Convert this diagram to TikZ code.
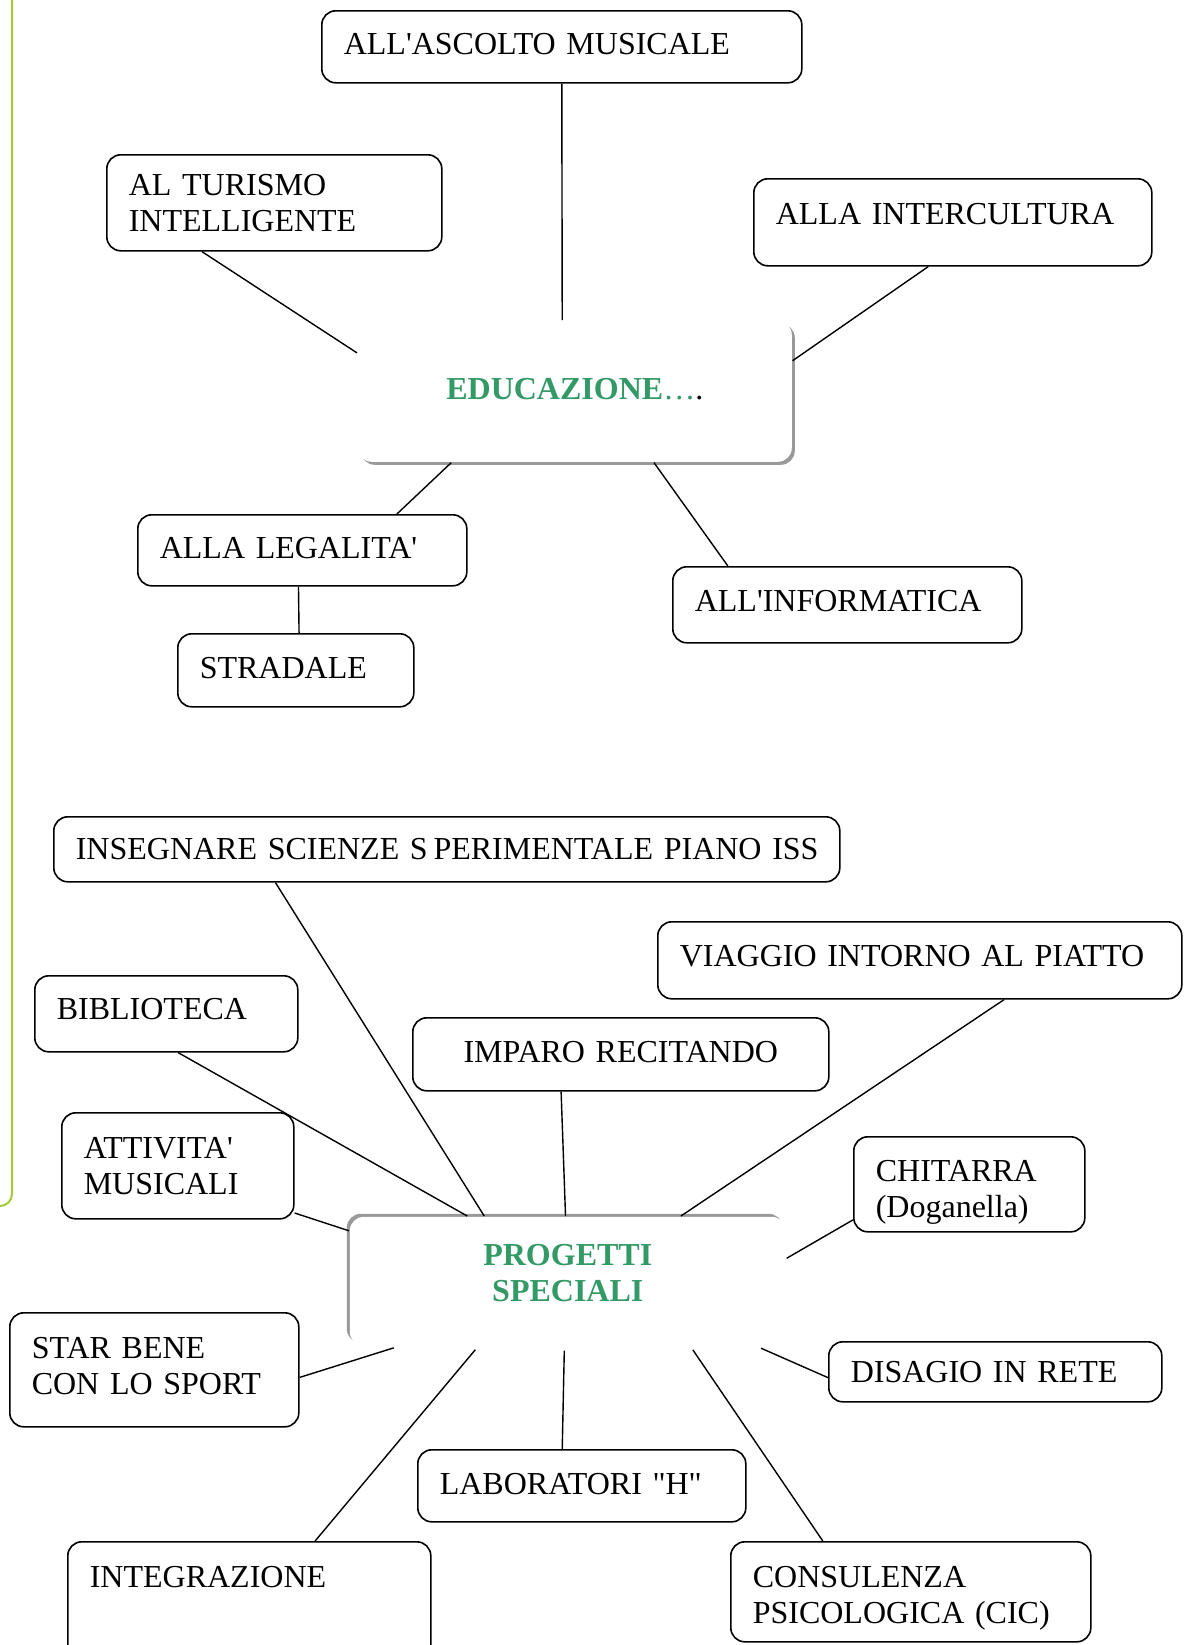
\documentclass[tikz,border=0pt]{standalone}
\usepackage{fontspec}
\setmainfont{Liberation Serif}[Ligatures=TeXOff]
\usetikzlibrary{shadows}
\definecolor{titlegreen}{RGB}{51,153,102}
\definecolor{sidegreen}{RGB}{160,205,50}

\begin{document}
\begin{tikzpicture}[x=0.5pt,y=-0.5pt,
    box/.style={draw,line width=0.8pt,rounded corners=7pt,anchor=north west,
      inner xsep=11pt,inner ysep=0pt,align=left,font=\fontsize{16}{18}\selectfont},
    boxsize/.code 2 args={\pgfmathsetmacro\tw{#1-22}%
      \edef\tmp{\noexpand\pgfkeysalso{minimum width=#1pt,minimum height=#2pt,text width=\tw pt}}\tmp},
    hub/.style={box,draw=none,fill=white,align=center,text=titlegreen,
      font=\fontsize{16}{18}\selectfont\bfseries},
    link/.style={line width=0.7pt}]
  \useasboundingbox (0,0) rectangle (1184,1645);
  % side rule
  \draw[sidegreen,line width=1pt,rounded corners=6pt] (12,-5) -- (12,1206) -- (-10,1206);

  % Educazione
  \node[hub,boxsize={217}{70.5},text depth=2pt,
    drop shadow={shadow xshift=1.5pt,shadow yshift=-1.5pt,opacity=1,fill=black!40}]
    (edu) at (357,320) {EDUCAZIONE{\mdseries …}\textcolor{black}{\mdseries .}};
  \node[box,boxsize={240}{36},text depth=3pt] (ascolto) at (321,10) {ALL'ASCOLTO MUSICALE};
  \node[box,boxsize={167.5}{48}] (turismo) at (106,154) {AL TURISMO\\INTELLIGENTE};
  \node[box,boxsize={199}{43.5},text depth=8.4pt] (intercultura) at (753,178) {ALLA INTERCULTURA};
  \node[box,boxsize={164.5}{35.5},text depth=2pt] (legalita) at (137,514) {ALLA LEGALITA'};
  \node[box,boxsize={118}{36.5},text depth=2pt] (stradale) at (177,633) {STRADALE};
  \node[box,boxsize={174.5}{38},text depth=4.2pt] (informatica) at (672,566) {ALL'INFORMATICA};

  \draw[link] (ascolto.south) -- (edu.100);
  \draw[link] (turismo.214) -- (edu.170);
  \draw[link] (intercultura.241) -- (edu.8);
  \draw[link] (legalita.21) -- (edu.210);
  \draw[link] (informatica.162) -- (edu.318);
  \draw[link] (legalita.264) -- (stradale.85);

  % Progetti speciali
  \node[hub,boxsize={218}{64.5},text depth=26pt,
    drop shadow={shadow xshift=-1.5pt,shadow yshift=1.5pt,opacity=1,fill=black!40}]
    (prog) at (349,1216) {PROGETTI\\SPECIALI};
  \node[box,boxsize={393}{32.5}] (iss) at (53,816) {\mbox{INSEGNARE SCIENZE S\hspace{0.18em}PERIMENTALE PIANO ISS}};
  \node[box,boxsize={262}{38.5},text depth=4.2pt] (viaggio) at (657,921) {VIAGGIO INTORNO AL PIATTO};
  \node[box,boxsize={131.5}{38},text depth=5.2pt] (biblio) at (34,975) {BIBLIOTECA};
  \node[box,boxsize={208}{36.5},align=center,text depth=2pt] (imparo) at (412,1017) {IMPARO RECITANDO};
  \node[box,boxsize={116}{53}] (attivita) at (61,1112) {ATTIVITA'\\MUSICALI};
  \node[box,boxsize={115.5}{47.5},text depth=13pt] (chitarra) at (853,1136) {CHITARRA\\(Doganella)};
  \node[box,boxsize={144.5}{57},text depth=22pt] (sport) at (9,1312) {STAR BENE\\CON LO SPORT};
  \node[box,boxsize={166.5}{30}] (disagio) at (828,1341) {DISAGIO IN RETE};
  \node[box,boxsize={164}{36},text depth=2pt] (lab) at (417,1449) {LABORATORI "H"};
  \node[box,boxsize={181.5}{65},text depth=30pt] (integrazione) at (67,1541) {INTEGRAZIONE};
  \node[box,boxsize={180}{50},text depth=15pt] (consulenza) at (730,1541) {CONSULENZA\\PSICOLOGICA (CIC)};

  \draw[link] (iss.191) -- (prog.142);
  \draw[link] (biblio.287) -- (prog.147);
  \draw[link] (imparo.212) -- (prog.92);
  \draw[link] (viaggio.335) -- (prog.30);
  \draw[link] (attivita.338) -- (prog.167);
  \draw[link] (chitarra.197) -- (prog.6);
  \draw[link,shorten >=2pt] (sport.357) -- (prog.201);
  \draw[link,shorten >=2pt] (integrazione.45) -- (prog.216);
  \draw[link,shorten >=2pt] (lab.118) -- (prog.267);
  \draw[link,shorten >=2pt] (consulenza.150) -- (prog.332);
  \draw[link,shorten >=2pt] (disagio.182) -- (prog.341);
\end{tikzpicture}
\end{document}
